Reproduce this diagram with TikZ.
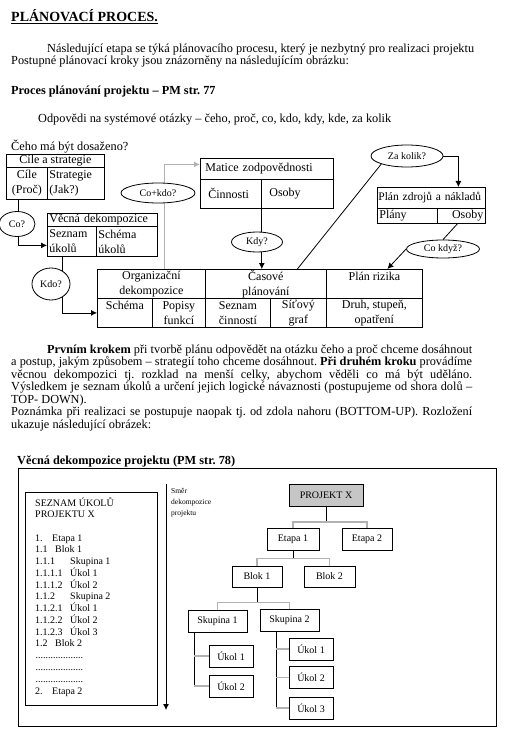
\documentclass[tikz,border=0pt]{standalone}
\usepackage{fontspec}
\setmainfont{Liberation Serif}
\usetikzlibrary{arrows.meta,shapes.geometric,backgrounds}
\frenchspacing

\newcommand{\bodyfont}{\fontsize{12.3}{12.5}\selectfont}
\newcommand{\boxfont}{\fontsize{12}{15}\selectfont}
\newcommand{\askfont}{\fontsize{10}{11}\selectfont}
\newcommand{\treefont}{\fontsize{10}{11.8}\selectfont}
\newcommand{\dotrow}{...................}

\tikzset{
  txt/.style={anchor=base west, inner sep=0pt, font=\bodyfont},
  ltxt/.style={anchor=base west, inner sep=0pt, font=\treefont},
  cell/.style={draw, line width=0.8pt, anchor=north west, inner sep=0pt, align=center, font=\boxfont},
  lcell/.style={cell, align=left, inner xsep=2pt},
  ask/.style={ellipse, draw, line width=0.8pt, fill=white, inner sep=0pt, font=\askfont},
  tbox/.style={draw, line width=0.8pt, inner sep=0pt, minimum height=22, font=\treefont},
  conn/.style={draw, line width=0.8pt},
  gconn/.style={draw=gray!60, line width=1.3pt},
  >={Latex[length=6pt,width=6pt]}
}

\begin{document}
\begin{tikzpicture}[x=1pt,y=-1pt]
\useasboundingbox (0,0) rectangle (512,743);

% texts at the top
\node[txt, font=\fontsize{14}{16}\selectfont\bfseries] (title) at (11,22) {\underline{PLÁNOVACÍ PROCES.}};
\node[txt] (intro1) at (47,53) {Následující etapa se týká plánovacího procesu, který je nezbytný pro realizaci projektu};
\node[txt] (intro2) at (11,65) {Postupné plánovací kroky jsou znázorněny na následujícím obrázku:};
\node[txt, font=\bodyfont\bfseries] (proces) at (11,95) {Proces plánování projektu – PM str. 77};
\node[txt] (otazky) at (38,123) {Odpovědi na systémové otázky – čeho, proč, co, kdo, kdy, kde, za kolik};
\node[txt] (ceho) at (11,151) {Čeho má být dosaženo?};

% boxes of the planning process
\node[cell, minimum width=98, minimum height=13] (cilehead) at (6,154) {Cíle a strategie};
\node[cell, minimum width=41, minimum height=32] (cile) at (6,167) {Cíle\\(Proč)};
\node[lcell, text width=53, minimum height=32] (strategie) at (47,167) {Strategie\\(Jak?)};

\node[lcell, text width=106, minimum height=13] (vecnahead) at (47,213) {Věcná dekompozice};
\node[lcell, text width=45, minimum height=30] (seznamukolu) at (47,226) {Seznam\\úkolů};
\node[lcell, text width=57, minimum height=30] (schemaukolu) at (96,226) {Schéma\\úkolů};

\node[lcell, inner xsep=5pt, text width=123, minimum height=21] (maticehead) at (200,158) {Matice zodpovědnosti};
\node[lcell, inner xsep=8pt, text width=45, minimum height=29] (cinnosti) at (200,179) {Činnosti};
\node[lcell, inner xsep=8pt, text width=56, minimum height=29] (osoby) at (261,179) {Osoby};

\node[lcell, inner xsep=1pt, text width=106, minimum height=21, font=\fontsize{11.5}{14}\selectfont] (zdrojehead) at (377,187) {Plán zdrojů a nákladů};
\node[lcell, text width=56, minimum height=15] (plany) at (377,208) {Plány};
\node[lcell, align=right, text width=44, minimum height=15] (zosoby) at (437,208) {Osoby};

\node[cell, minimum width=108, minimum height=29] (orghead) at (97,269) {Organizační\\dekompozice};
\node[cell, minimum width=121, minimum height=29] (casovehead) at (205,269) {Časové\\plánování};
\node[cell, minimum width=96, minimum height=29] (rizikohead) at (326,269) {Plán rizika\\\mbox{}};
\node[cell, minimum width=55, minimum height=29] (orgschema) at (97,298) {Schéma\\\mbox{}};
\node[cell, minimum width=53, minimum height=29] (popisy) at (152,298) {Popisy\\funkcí};
\node[cell, minimum width=65, minimum height=29] (seznamcin) at (205,298) {Seznam\\činností};
\node[cell, minimum width=56, minimum height=29] (sitovy) at (270,298) {Síťový\\graf};
\node[cell, minimum width=96, minimum height=29] (druh) at (326,298) {Druh, stupeň,\\opatření};

% the questions
\node[ask, minimum width=36, minimum height=25] (co) at (17,224) {Co?};
\node[ask, minimum width=38, minimum height=32] (kdo) at (51,284) {Kdo?};
\node[ask, minimum width=74, minimum height=20] (cokdo) at (158,193) {Co+kdo?};
\node[ask, minimum width=51, minimum height=20] (kdy) at (257,242) {Kdy?};
\node[ask, minimum width=72, minimum height=22] (zakolik) at (407,156) {Za kolik?};
\node[ask, minimum width=73, minimum height=18] (cokdyz) at (443,249) {Co když?};

\begin{scope}[on background layer]
  \draw[conn,->] ([xshift=-8.5pt]cile.south) |- ([yshift=-4pt]seznamukolu.west);
  \draw[conn,->] ([xshift=-9.5pt]seznamukolu.south) |- (orgschema.west);
  \draw[gconn,->] ([xshift=13pt]orghead.north) |- ([yshift=4.5pt]maticehead.west);
  \draw[conn,->] (cinnosti.south east) -- (cinnosti.south east |- casovehead.north);
  \draw[conn] ([xshift=31.5pt]casovehead.north) -- (zakolik.south west);
  \draw[conn,->] (zakolik.east) -| ([xshift=27pt]zdrojehead.north);
  \draw[conn] ([xshift=-4pt]zosoby.south) -- (cokdyz.north);
  \draw[conn,->] (cokdyz.west) -- ([xshift=13pt]rizikohead.north);
\end{scope}

% paragraph
\node[txt] (par1) at (47,353) {\makebox[425pt][s]{\textbf{Prvním krokem} při tvorbě plánu odpovědět na otázku čeho a proč chceme dosáhnout}};
\node[txt] (par2) at (11,365.5) {\makebox[461pt][s]{a postup, jakým způsobem – strategií toho chceme dosáhnout. \textbf{Při druhém kroku} provádíme}};
\node[txt] (par3) at (11,378) {\makebox[461pt][s]{věcnou dekompozici tj. rozklad na menší celky, abychom věděli co má být uděláno.}};
\node[txt] (par4) at (11,390.5) {\makebox[461pt][s]{Výsledkem je seznam úkolů a určení jejich logické návaznosti (postupujeme od shora dolů –}};
\node[txt] (par5) at (11,403) {TOP- DOWN).};
\node[txt] (par6) at (11,415.5) {\makebox[461pt][s]{Poznámka při realizaci se postupuje naopak tj. od zdola nahoru (BOTTOM-UP). Rozložení}};
\node[txt] (par7) at (11,428) {ukazuje následující obrázek:};

% decomposition of the project
\node[txt, font=\bodyfont\bfseries] (vecnatitle) at (17,464) {Věcná dekompozice projektu (PM str. 78)};
\draw[line width=0.8pt] (18,468) rectangle (496,726);

\node[draw, line width=0.8pt, anchor=north west, minimum width=132, minimum height=213] (listbox) at (25,492) {};
\node[ltxt] (listhead1) at (35,506) {SEZNAM ÚKOLŮ};
\node[ltxt] (listhead2) at (35,517.5) {PROJEKTU X};
\foreach \nr/\colw/\entry [count=\i] in {1./17/Etapa 1, 1.1/20/Blok 1, 1.1.1/35/Skupina 1,
    1.1.1.1/35/Úkol 1, 1.1.1.2/35/Úkol 2, 1.1.2/35/Skupina 2, 1.1.2.1/35/Úkol 1,
    1.1.2.2/35/Úkol 2, 1.1.2.3/35/Úkol 3, 1.2/20/Blok 2,
    \dotrow/0/, \dotrow/0/, \dotrow/0/, 2./17/Etapa 2}
  \node[ltxt] (item\i) at (35,{541+11.77*(\i-1)}) {\makebox[\colw pt][l]{\nr}\entry};

\coordinate (smertop) at (166,484);
\coordinate (smerbot) at (166,710);
\draw[conn,->] (smertop) -- (smerbot);
\node[anchor=north west, inner sep=0pt, align=left, font=\fontsize{7.5}{11}\selectfont] (smer) at (171,488) {Směr\\dekompozice\\projektu};

\node[tbox, fill=gray!45, minimum width=74] (projekt) at (326,495.5) {PROJEKT X};
\node[tbox, minimum width=52] (etapa1) at (293,539) {Etapa 1};
\node[tbox, minimum width=50] (etapa2) at (367,539) {Etapa 2};
\node[tbox, minimum width=50, minimum height=21] (blok1) at (257,576.5) {Blok 1};
\node[tbox, minimum width=51, minimum height=21] (blok2) at (329.5,576.5) {Blok 2};
\node[tbox, minimum width=59] (skup1) at (217.5,621) {Skupina 1};
\node[tbox, minimum width=59] (skup2) at (289.5,620.5) {Skupina 2};
\node[tbox, minimum width=44] (ukol1a) at (231,656) {Úkol 1};
\node[tbox, minimum width=44] (ukol2a) at (231,686) {Úkol 2};
\node[tbox, minimum width=44] (ukol1b) at (311,649) {Úkol 1};
\node[tbox, minimum width=44] (ukol2b) at (311,677.5) {Úkol 2};
\node[tbox, minimum width=44] (ukol3b) at (311,708) {Úkol 3};

\draw[conn] (projekt.south) -- ++(0,15) coordinate (bus1);
\draw[gconn] (etapa1.north) |- (bus1) -| (etapa2.north);
\draw[conn] (etapa1.south) -- ++(0,8) coordinate (bus2);
\draw[gconn] (blok1.north) |- (bus2) -| (blok2.north);
\draw[conn] (blok1.south) -- ++(0,15) coordinate (bus3);
\draw[gconn] (skup1.north) |- (bus3) -| (skup2.north);

\draw[conn] ([xshift=-23.5pt]skup1.south) coordinate (s1) -- (s1 |- ukol2a.west);
\draw[gconn] (s1 |- ukol1a.west) -- (ukol1a.west);
\draw[gconn] (s1 |- ukol2a.west) -- (ukol2a.west);
\draw[conn] ([xshift=-13.5pt]skup2.south) coordinate (s2) -- (s2 |- ukol3b.west);
\draw[gconn] (s2 |- ukol1b.west) -- (ukol1b.west);
\draw[gconn] (s2 |- ukol2b.west) -- (ukol2b.west);
\draw[gconn] (s2 |- ukol3b.west) -- (ukol3b.west);
\end{tikzpicture}
\end{document}
